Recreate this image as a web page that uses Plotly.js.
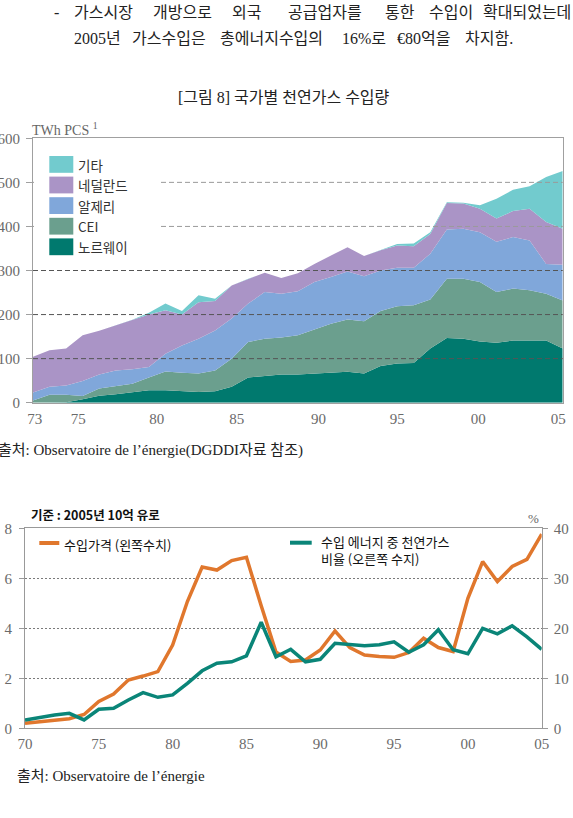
<!DOCTYPE html>
<html><head><meta charset="utf-8">
<script src="https://cdn.plot.ly/plotly-3.0.1.min.js"></script>
<style>html,body{margin:0;padding:0;background:#fff;}#chart{width:573px;height:818px;}</style>
</head><body><div id="chart"></div>
<script>
// ---------- Chart 1 data: natural gas imports by country (TWh PCS) ----------
const years1 = [1973,1974,1975,1976,1977,1978,1979,1980,1981,1982,1983,1984,1985,1986,1987,1988,1989,1990,1991,1992,1993,1994,1995,1996,1997,1998,1999,2000,2001,2002,2003,2004,2005];
const norway      = [0,0,1,8,16,19,24,28,28,26,24,26,36,57,60,64,64,66,67,70,66,83,89,90,123,147,145,139,136,141,141,141,123];
const cei         = [5,18,17,7,16,18,19,29,43,42,42,47,64,81,85,84,89,100,112,119,119,125,130,131,111,134,136,135,115,118,114,106,109];
const algeria     = [18,18,21,34,32,36,33,24,40,62,79,91,91,87,106,99,100,108,106,109,102,92,87,85,104,112,114,113,114,117,113,68,81];
const netherlands = [81,83,84,104,99,102,111,119,99,70,83,67,75,56,44,36,41,41,49,55,46,46,51,49,45,60,57,53,53,59,72,95,82];
const others      = [0,0,0,0,0,0,1,4,15,8,16,5,0,0,0,0,0,0,0,0,0,0,3,6,4,2,2,8,45,48,51,102,131];
const seriesNames1  = ['노르웨이','CEI','알제리','네덜란드','기타'];
const seriesColors1 = ['#00796e','#6b9f8e','#80a7da','#aa94c6','#72cbce'];
const xTickVals1 = [1973.1,1975.74,1980.47,1985.31,1990.24,1995.01,1999.9,2004.73];
const xTickText1 = ['73','75','80','85','90','95','00','05'];
const yTickVals1 = [0,100,200,300,400,500,600];
const gridVals1  = [100,200,300,400,500];

// ---------- Chart 2 data ----------
const years2 = [1970,1971,1972,1973,1974,1975,1976,1977,1978,1979,1980,1981,1982,1983,1984,1985,1986,1987,1988,1989,1990,1991,1992,1993,1994,1995,1996,1997,1998,1999,2000,2001,2002,2003,2004,2005];
const importPrice = [0.2,0.25,0.3,0.38,0.55,1.07,1.37,1.93,2.09,2.27,3.33,5.07,6.45,6.33,6.71,6.84,4.9,3.05,2.67,2.73,3.13,3.89,3.23,2.93,2.87,2.84,3.03,3.6,3.23,3.07,5.2,6.67,5.87,6.47,6.76,7.77];
const gasShare    = [1.67,2.2,2.67,3.0,1.67,3.8,4.0,5.67,7.13,6.2,6.67,9.0,11.5,13.0,13.3,14.5,21.2,14.3,15.8,13.3,13.8,17.0,16.7,16.5,16.7,17.3,15.2,16.7,19.7,15.7,14.9,20.0,18.9,20.5,18.3,15.8];
const seriesNames2  = ['수입가격 (왼쪽수치)', '수입 에너지 중 천연가스<br>비율 (오른쪽 수지)'];
const seriesColors2 = ['#e0772d', '#0a8578'];
const xTickVals2 = [1970,1975,1980,1985,1990,1995,2000,2005];
const xTickText2 = ['70','75','80','85','90','95','00','05'];

// ---------- helpers ----------
const W = 573, H = 818;
const px = v => v / W;
const py = v => 1 - v / H;
const SERIF = "'Liberation Serif','Noto Sans CJK KR',serif";
const BODY = "'Liberation Serif','Noto Sans CJK KR',serif";
const SANS = "'Noto Sans CJK KR','Noto Sans',sans-serif";

function ann(text, x, y, size, opts) {
  opts = opts || {};
  return {
    xref: 'paper', yref: 'paper', x: px(x), y: py(y),
    xanchor: opts.xanchor || 'left', yanchor: 'middle', align: 'left',
    showarrow: false, text: text,
    font: {family: opts.family || BODY, size: size, color: opts.color || '#222', weight: opts.weight || 'normal'}
  };
}

// ---------- traces ----------
const stackSeries = [norway, cei, algeria, netherlands, others];
const traces = stackSeries.map((vals, i) => ({
  type: 'scatter', mode: 'lines', x: years1, y: vals,
  stackgroup: 'one', line: {width: 0, color: seriesColors1[i]},
  fillcolor: seriesColors1[i], name: seriesNames1[i],
  xaxis: 'x', yaxis: 'y', showlegend: false, hoverinfo: 'skip'
}));
traces.push({
  type: 'scatter', mode: 'lines', x: years2, y: importPrice,
  line: {color: seriesColors2[0], width: 3.5}, xaxis: 'x2', yaxis: 'y2',
  showlegend: false, hoverinfo: 'skip', name: seriesNames2[0]
});
traces.push({
  type: 'scatter', mode: 'lines', x: years2, y: gasShare,
  line: {color: seriesColors2[1], width: 3.5}, xaxis: 'x2', yaxis: 'y3',
  showlegend: false, hoverinfo: 'skip', name: seriesNames2[1]
});

// ---------- shapes ----------
const shapes = [];
gridVals1.forEach(v => shapes.push({
  type: 'line', xref: 'x domain', x0: 0, x1: 1, yref: 'y', y0: v, y1: v,
  line: {color: v <= 300 ? '#555' : '#9a9a9a', width: 1, dash: '5px,3px'}, layer: 'above'
}));
// legend background
shapes.push({type: 'rect', xref: 'paper', yref: 'paper', x0: px(34), x1: px(159), y0: py(262), y1: py(146),
  fillcolor: '#ffffff', line: {width: 0}, layer: 'above'});
const annotations = [];
// legend chart 1 (top to bottom: 기타 ... 노르웨이)
for (let k = 0; k < 5; k++) {
  const i = 4 - k;
  const top = 156 + k * 20.6;
  shapes.push({type: 'rect', xref: 'paper', yref: 'paper', x0: px(49.3), x1: px(73.3), y0: py(top + 16.8), y1: py(top),
    fillcolor: seriesColors1[i], line: {width: 0}, layer: 'above'});
  annotations.push(ann(seriesNames1[i], 76, top + 8.6, 13.5, {family: SANS, color: '#333'}));
}
// legend chart 2
shapes.push({type: 'line', xref: 'paper', yref: 'paper', x0: px(39.3), x1: px(59.3), y0: py(543), y1: py(543),
  line: {color: seriesColors2[0], width: 4}});
shapes.push({type: 'line', xref: 'paper', yref: 'paper', x0: px(290), x1: px(311.7), y0: py(542.7), y1: py(542.7),
  line: {color: seriesColors2[1], width: 4}});
annotations.push(ann(seriesNames2[0], 62, 544.5, 13, {family: SANS, color: '#111'}));
annotations.push(ann(seriesNames2[1], 319, 549.5, 13, {family: SANS, color: '#111'}));

// top body text (line 1 word-justified)
annotations.push(ann('-', 52, 13, 16));
const line1 = [['가스시장',72],['개방으로',151],['외국',230],['공급업자를',286],['통한',383],['수입이',427],['확대되었는데',481]];
line1.forEach(w => annotations.push(ann(w[0], w[1], 13, 16)));
const line2 = [['2005년',72],['가스수입은',130],['총에너지수입의',218],['16%로',340],['€80억을',395],['차지함.',463]];
line2.forEach(w => annotations.push(ann(w[0], w[1], 39, 16)));
annotations.push(ann('[그림 8] 국가별 천연가스 수입량', 284, 97, 16, {xanchor: 'center'}));
annotations.push(ann('TWh PCS <sup>1</sup>', 30, 129, 14, {family: SERIF, color: '#666'}));
annotations.push(ann('출처: Observatoire de l’énergie(DGDDI자료 참조)', -4, 450, 15));
annotations.push(ann('기준 : 2005년 10억 유로', 29, 514, 12.5, {family: SANS, weight: 'bold', color: '#111'}));
annotations.push(ann('%', 533, 518, 13, {family: SERIF, color: '#666', xanchor: 'center'}));
annotations.push(ann('출처: Observatoire de l’énergie', 15, 776, 15));

const tickFont = {family: SERIF, size: 15, color: '#6a6a6a'};
const layout = {
  width: W, height: H, margin: {l: 0, r: 0, t: 0, b: 0},
  paper_bgcolor: '#fff', plot_bgcolor: '#fff', showlegend: false,
  font: {family: SERIF},
  xaxis: {domain: [px(33), px(562.7)], range: [1973, 2005], anchor: 'y',
    showline: true, linecolor: '#a0a0a0', linewidth: 1, mirror: true,
    showgrid: false, zeroline: false, tickmode: 'array', tickvals: xTickVals1, ticktext: xTickText1,
    ticks: 'outside', ticklen: 2, tickcolor: 'rgba(0,0,0,0)', tickfont: tickFont, fixedrange: true},
  yaxis: {domain: [py(402.7), py(138.3)], range: [0, 600], anchor: 'x',
    showline: true, linecolor: '#a0a0a0', linewidth: 1, mirror: true,
    showgrid: false, zeroline: false, tickmode: 'array', tickvals: yTickVals1,
    ticks: 'outside', ticklen: 6, tickcolor: '#a0a0a0', tickfont: tickFont, ticklabelstandoff: 3, fixedrange: true},
  xaxis2: {domain: [px(25), px(541.7)], range: [1970, 2005], anchor: 'y2',
    showline: true, linecolor: '#999', linewidth: 1, mirror: true,
    showgrid: false, zeroline: false, tickmode: 'array', tickvals: xTickVals2, ticktext: xTickText2,
    ticks: 'outside', ticklen: 2, tickcolor: 'rgba(0,0,0,0)', tickfont: tickFont, fixedrange: true},
  yaxis2: {domain: [py(728.3), py(528.3)], range: [0, 8], anchor: 'x2', dtick: 2, tick0: 0,
    showline: true, linecolor: '#999', linewidth: 1, mirror: true,
    showgrid: true, gridcolor: '#7a7a7a', gridwidth: 1, griddash: '2px,2px', zeroline: false,
    ticks: 'outside', ticklen: 5, tickcolor: '#999', tickfont: tickFont, ticklabelstandoff: 4, fixedrange: true},
  yaxis3: {overlaying: 'y2', side: 'right', anchor: 'x2', range: [0, 40], dtick: 10, tick0: 0,
    showline: true, linecolor: '#999', linewidth: 1, showgrid: false, zeroline: false,
    ticks: 'outside', ticklen: 5, tickcolor: '#999', tickfont: tickFont, ticklabelstandoff: 3, fixedrange: true},
  shapes: shapes,
  annotations: annotations
};
Plotly.newPlot('chart', traces, layout, {staticPlot: true, displayModeBar: false});
</script>
</body></html>
